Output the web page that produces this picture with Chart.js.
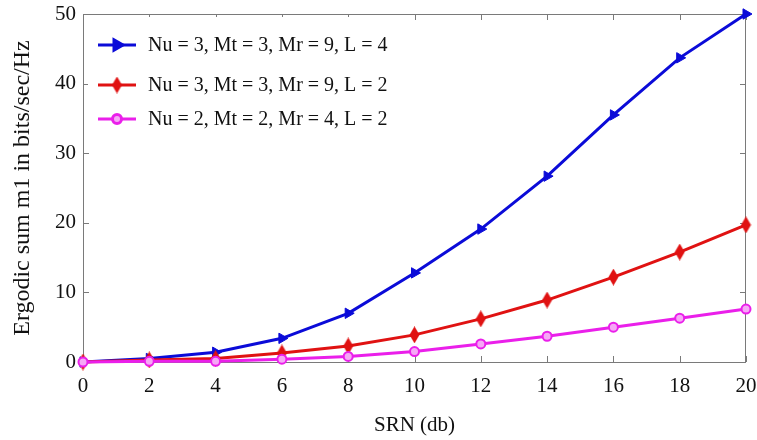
<!DOCTYPE html>
<html>
<head>
<meta charset="utf-8">
<script src="https://cdn.jsdelivr.net/npm/chart.js@4.4.0/dist/chart.umd.min.js"></script>
<style>
  html, body { margin: 0; padding: 0; background: #fff; }
  #wrap { width: 757px; height: 440px; }
</style>
</head>
<body>
<div id="wrap"><canvas id="c"></canvas></div>
<script>
'use strict';

// SNR axis and the three capacity curves.
const snr = [0, 2, 4, 6, 8, 10, 12, 14, 16, 18, 20];
const seriesA = [0, 0.5, 1.4, 3.4, 7.0, 12.8, 19.1, 26.7, 35.5, 43.7, 50.0];
const seriesB = [0, 0.3, 0.5, 1.3, 2.3, 3.9, 6.2, 8.9, 12.2, 15.8, 19.7];
const seriesC = [0, 0.1, 0.1, 0.4, 0.8, 1.5, 2.6, 3.7, 5.0, 6.3, 7.6];
const labels = [
  'Nu = 3, Mt = 3, Mr = 9, L = 4',
  'Nu = 3, Mt = 3, Mr = 9, L = 2',
  'Nu = 2, Mt = 2, Mr = 4, L = 2',
];
const xTicks = [0, 2, 4, 6, 8, 10, 12, 14, 16, 18, 20];
const yTicks = [0, 10, 20, 30, 40, 50];

const SERIF = '"Liberation Serif", "DejaVu Serif", serif';
const BLUE = '#0b0bd8', RED = '#e01212', MAGENTA = '#ea1fea';

const pts = (vals) => snr.map((x, i) => ({ x, y: vals[i] }));

// narrow MATLAB-style diamond marker
function diamond(color) {
  const cv = document.createElement('canvas');
  cv.width = 11; cv.height = 17;
  const g = cv.getContext('2d');
  g.fillStyle = color;
  g.beginPath();
  g.moveTo(5.5, 0); g.lineTo(10.5, 8.5); g.lineTo(5.5, 17); g.lineTo(0.5, 8.5);
  g.closePath();
  g.fill();
  return cv;
}
const redDiamond = diamond(RED);

// keep the plot box where the figure has it: no extra room for edge labels
function noEdgePad(s) {
  s.paddingLeft = 0; s.paddingRight = 0; s.paddingTop = 0; s.paddingBottom = 0;
}

// frame box with inward tick marks on all four sides
const frameTicks = {
  id: 'frameTicks',
  beforeDatasetsDraw(chart) {
    const { ctx, chartArea: a, scales: { x, y } } = chart;
    ctx.save();
    ctx.strokeStyle = '#7a7a7a';
    ctx.lineWidth = 1;
    ctx.strokeRect(a.left + 0.5, a.top + 0.5, a.right - a.left - 1, a.bottom - a.top);
    ctx.beginPath();
    xTicks.forEach(v => {
      const px = Math.round(x.getPixelForValue(v)) + 0.5;
      ctx.moveTo(px, a.bottom); ctx.lineTo(px, a.bottom - 6);
      ctx.moveTo(px, a.top); ctx.lineTo(px, a.top + 6);
    });
    yTicks.forEach(v => {
      const py = Math.round(y.getPixelForValue(v)) + 0.5;
      ctx.moveTo(a.left, py); ctx.lineTo(a.left + 6, py);
      ctx.moveTo(a.right, py); ctx.lineTo(a.right - 6, py);
    });
    ctx.stroke();
    ctx.restore();
  },
};

// legend drawn inside the plot, top-left
const insideLegend = {
  id: 'insideLegend',
  afterDatasetsDraw(chart) {
    const { ctx } = chart;
    const rows = [45, 85, 119];
    ctx.save();
    ctx.fillStyle = '#fff';
    ctx.fillRect(88, 17, 318, 121);
    chart.data.datasets.forEach((ds, i) => {
      const yy = rows[i];
      ctx.strokeStyle = ds.borderColor;
      ctx.lineWidth = 3;
      ctx.beginPath();
      ctx.moveTo(98, yy); ctx.lineTo(136, yy);
      ctx.stroke();
      ctx.fillStyle = ds.pointBackgroundColor;
      ctx.strokeStyle = ds.pointBorderColor;
      Chart.helpers.drawPoint(ctx, {
        pointStyle: ds.pointStyle, rotation: ds.pointRotation || 0,
        radius: ds.pointRadius, borderWidth: ds.pointBorderWidth,
      }, 117, yy);
      ctx.fillStyle = '#111';
      ctx.font = '20px ' + SERIF;
      ctx.textBaseline = 'middle';
      ctx.fillText(labels[i], 148, yy + 1);
    });
    ctx.restore();
  },
};

new Chart(document.getElementById('c'), {
  type: 'line',
  data: {
    datasets: [
      { label: labels[0], data: pts(seriesA), borderColor: BLUE, borderWidth: 3, order: 2,
        pointStyle: 'triangle', pointRotation: 90, pointRadius: 6, pointBackgroundColor: BLUE,
        pointBorderColor: BLUE, pointBorderWidth: 1, clip: 10 },
      { label: labels[1], data: pts(seriesB), borderColor: RED, borderWidth: 3, order: 1,
        pointStyle: redDiamond, pointRadius: 8, pointBackgroundColor: RED,
        pointBorderColor: RED, pointBorderWidth: 1, clip: 10 },
      { label: labels[2], data: pts(seriesC), borderColor: MAGENTA, borderWidth: 3, order: 0,
        pointStyle: 'circle', pointRadius: 4.5, pointBackgroundColor: '#f6a8f6',
        pointBorderColor: MAGENTA, pointBorderWidth: 2, clip: 10 },
    ],
  },
  options: {
    responsive: true, maintainAspectRatio: false, animation: false,
    layout: { padding: { top: 14, right: 11, left: 0, bottom: 0 } },
    plugins: { legend: { display: false }, tooltip: { enabled: false } },
    elements: { line: { tension: 0 } },
    scales: {
      x: {
        type: 'linear', min: 0, max: 20,
        afterFit: (s) => { s.height = 78; noEdgePad(s); },
        afterBuildTicks: (s) => { s.ticks = xTicks.map(v => ({ value: v })); },
        grid: { display: false, drawTicks: false }, border: { display: false },
        ticks: { padding: 12, color: '#111', font: { family: SERIF, size: 21 } },
        title: { display: true, text: 'SRN (db)', color: '#111', padding: { top: 0, bottom: 2 },
          font: { family: SERIF, size: 21 } },
      },
      y: {
        min: 0, max: 50,
        afterFit: (s) => { s.width = 83; noEdgePad(s); },
        afterBuildTicks: (s) => { s.ticks = yTicks.map(v => ({ value: v })); },
        grid: { display: false, drawTicks: false }, border: { display: false },
        ticks: { padding: 7, color: '#111', font: { family: SERIF, size: 21 } },
        title: { display: true, text: 'Ergodic sum m1 in bits/sec/Hz', color: '#111',
          padding: { top: 8, bottom: 0 }, font: { family: SERIF, size: 24 } },
      },
    },
  },
  plugins: [frameTicks, insideLegend],
});
</script>
</body>
</html>
